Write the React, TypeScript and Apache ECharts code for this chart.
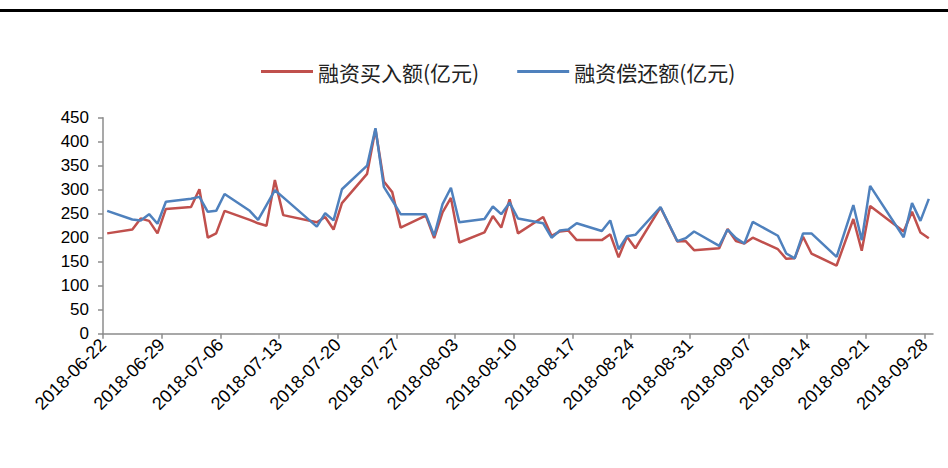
import { useEffect, useRef } from "react"
import * as echarts from "echarts"

// 交易日
const dates = [
  "2018-06-22", "2018-06-25", "2018-06-26", "2018-06-27", "2018-06-28", "2018-06-29",
  "2018-07-02", "2018-07-03", "2018-07-04", "2018-07-05", "2018-07-06",
  "2018-07-09", "2018-07-10", "2018-07-11", "2018-07-12", "2018-07-13",
  "2018-07-17", "2018-07-18", "2018-07-19", "2018-07-20",
  "2018-07-23", "2018-07-24", "2018-07-25", "2018-07-26", "2018-07-27",
  "2018-07-30", "2018-07-31", "2018-08-01", "2018-08-02", "2018-08-03",
  "2018-08-06", "2018-08-07", "2018-08-08", "2018-08-09", "2018-08-10",
  "2018-08-13", "2018-08-14", "2018-08-15", "2018-08-16", "2018-08-17",
  "2018-08-20", "2018-08-21", "2018-08-22", "2018-08-23", "2018-08-24",
  "2018-08-27", "2018-08-29", "2018-08-30", "2018-08-31",
  "2018-09-03", "2018-09-04", "2018-09-05", "2018-09-06", "2018-09-07",
  "2018-09-10", "2018-09-11", "2018-09-12", "2018-09-13", "2018-09-14",
  "2018-09-17", "2018-09-19", "2018-09-20", "2018-09-21",
  "2018-09-25", "2018-09-26", "2018-09-27", "2018-09-28",
]

// 融资买入额(亿元)
const buyValues = [
  209, 217, 240, 235, 209, 260,
  264, 301, 200, 209, 256,
  237, 230, 225, 320, 247,
  232, 243, 217, 272,
  333, 426, 317, 295, 221,
  246, 199, 253, 283, 190,
  211, 245, 221, 280, 209,
  243, 204, 213, 215, 195,
  195, 207, 159, 202, 178,
  263, 192, 193, 174,
  178, 218, 193, 188, 200,
  176, 156, 157, 202, 167,
  142, 239, 173, 266,
  213, 254, 211, 199,
]

// 融资偿还额(亿元)
const repayValues = [
  256, 238, 236, 249, 229, 275,
  281, 285, 254, 256, 291,
  256, 237, 268, 299, 284,
  223, 251, 236, 301,
  350, 428, 306, 278, 249,
  249, 204, 270, 304, 232,
  239, 265, 249, 273, 240,
  230, 200, 215, 217, 230,
  214, 236, 176, 203, 206,
  264, 193, 199, 213,
  183, 217, 199, 188, 233,
  204, 167, 157, 209, 209,
  160, 268, 195, 308,
  201, 272, 235, 281,
]

const startDate = "2018-06-22"
const endDate = "2018-09-29"
const DAY = 86400000

const dayOffset = (d: string) => (Date.parse(d) - Date.parse(startDate)) / DAY
const totalDays = dayOffset(endDate)
const weekTicks: number[] = []
for (let v = 0; v < totalDays; v += 7) weekTicks.push(v)

const fmtDate = (v: number) =>
  new Date(Date.parse(startDate) + v * DAY).toISOString().slice(0, 10)

export default function App() {
  const chartRef = useRef<HTMLDivElement>(null)

  useEffect(() => {
    if (!chartRef.current) return
    const chart = echarts.init(chartRef.current, null, { renderer: "svg" })

    const toPoints = (vals: number[]) => dates.map((d, i) => [dayOffset(d) + 0.5, vals[i]])

    chart.setOption({
      animation: false,
      backgroundColor: "#fff",
      textStyle: { fontFamily: "Liberation Sans, Noto Sans CJK SC, sans-serif" },
      graphic: [
        { type: "rect", left: 0, top: 9, shape: { width: 948, height: 3 }, style: { fill: "#000" } },
      ],
      legend: {
        left: 256,
        top: 56,
        icon: "rect",
        itemWidth: 52,
        itemHeight: 3,
        itemGap: 38,
        textStyle: { fontSize: 21, color: "#222", fontFamily: "Noto Sans CJK SC" },
        data: ["融资买入额(亿元)", "融资偿还额(亿元)"],
      },
      grid: { left: 103, right: 15, top: 117.7, bottom: 134.3, outerBoundsMode: "none" },
      xAxis: {
        type: "value",
        min: 0,
        max: totalDays,
        interval: 7,
        splitLine: { show: false },
        axisLine: { lineStyle: { color: "#8c8c8c", width: 1.5 } },
        axisTick: { length: 5, lineStyle: { color: "#8c8c8c", width: 1.5 }, customValues: weekTicks },
        axisLabel: {
          rotate: 45,
          fontSize: 18,
          color: "#000",
          margin: 8,
          customValues: weekTicks,
          formatter: (v: number) => fmtDate(v),
        },
      },
      yAxis: {
        type: "value",
        min: 0,
        max: 450,
        interval: 50,
        splitLine: { show: false },
        axisLine: { show: true, lineStyle: { color: "#8c8c8c", width: 1.5 } },
        axisTick: { show: true, length: 5, lineStyle: { color: "#8c8c8c", width: 1.5 } },
        axisLabel: { fontSize: 17, color: "#000", margin: 14 },
      },
      series: [
        {
          name: "融资买入额(亿元)",
          type: "line",
          symbol: "none",
          data: toPoints(buyValues),
          lineStyle: { color: "#C0504D", width: 2.5 },
          itemStyle: { color: "#C0504D" },
        },
        {
          name: "融资偿还额(亿元)",
          type: "line",
          symbol: "none",
          data: toPoints(repayValues),
          lineStyle: { color: "#4F81BD", width: 2.5 },
          itemStyle: { color: "#4F81BD" },
        },
      ],
    })

    return () => chart.dispose()
  }, [])

  return (
    <div
      ref={chartRef}
      style={{ position: "fixed", left: 0, top: 0, width: 948, height: 468 }}
    />
  )
}
